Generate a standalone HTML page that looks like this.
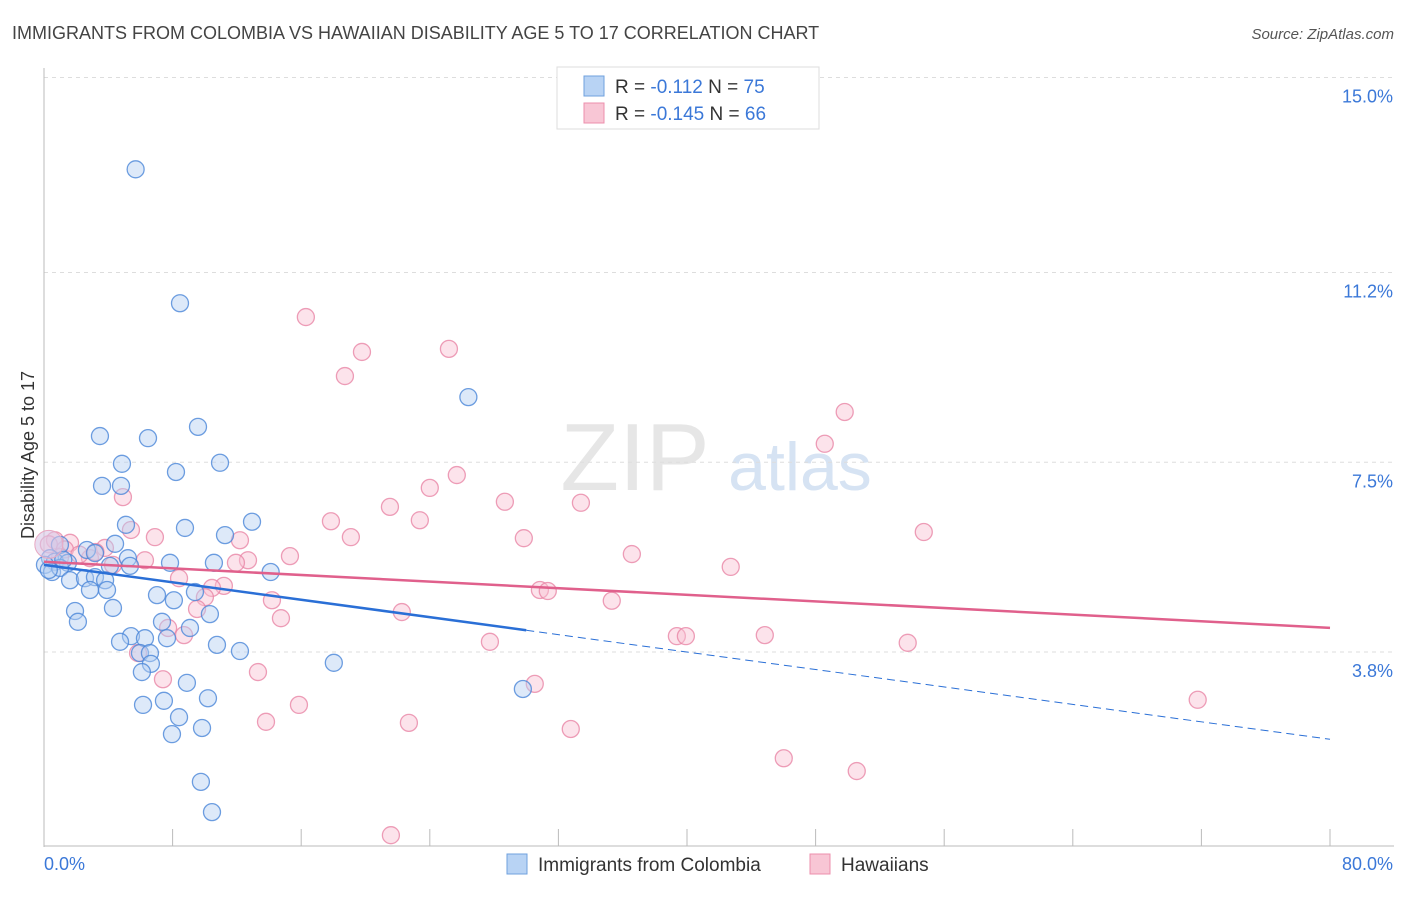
<!DOCTYPE html>
<html><head><meta charset="utf-8">
<style>
body{margin:0;background:#fff;font-family:"Liberation Sans",sans-serif;}
svg text{font-family:"Liberation Sans",sans-serif;}
</style></head>
<body>
<svg width="1406" height="892" xmlns="http://www.w3.org/2000/svg">
<text x="12" y="39" font-size="18" fill="#444">IMMIGRANTS FROM COLOMBIA VS HAWAIIAN DISABILITY AGE 5 TO 17 CORRELATION CHART</text>
<text x="1394" y="39" font-size="15" fill="#555" font-style="italic" text-anchor="end">Source: ZipAtlas.com</text>
<g>
<text x="635" y="490" font-size="96" fill="#e6e6e6" font-family="Liberation Serif" text-anchor="middle">ZIP</text>
<text x="800" y="490" font-size="68" fill="#d6e3f3" text-anchor="middle">atlas</text>
</g>
<g id="grid"></g>
<g id="axes"></g>
<g id="marks"></g>
<g>
<rect x="557" y="67" width="262" height="62" fill="#fff" stroke="#ddd"/>
<rect x="584" y="76" width="20" height="20" fill="#b8d3f4" stroke="#6fa0de"/>
<rect x="584" y="103" width="20" height="20" fill="#f8c6d5" stroke="#ec8fac"/>
<text x="615" y="93" font-size="19" fill="#333">R = <tspan fill="#3b78d8">-0.112</tspan>   N = <tspan fill="#3b78d8">75</tspan></text>
<text x="615" y="120" font-size="19" fill="#333">R = <tspan fill="#3b78d8">-0.145</tspan>   N = <tspan fill="#3b78d8">66</tspan></text>
</g>
<g>
<rect x="507" y="854" width="20" height="20" fill="#b8d3f4" stroke="#6fa0de"/>
<text x="538" y="871" font-size="19" fill="#333">Immigrants from Colombia</text>
<rect x="810" y="854" width="20" height="20" fill="#f8c6d5" stroke="#ec8fac"/>
<text x="841" y="871" font-size="19" fill="#333">Hawaiians</text>
</g>
<text x="34" y="455" font-size="18" fill="#333" transform="rotate(-90 34 455)" text-anchor="middle">Disability Age 5 to 17</text>
</svg>
<script>
const yTicks=[15.0,11.2,7.5,3.8];
const yTickLabels=["15.0%","11.2%","7.5%","3.8%"];
const xTicks=[0,8,16,24,32,40,48,56,64,72,80];
const blueX=[5.7,8.46,26.4,3.48,6.47,9.58,4.85,10.95,8.21,3.61,4.79,12.94,5.1,8.77,11.26,4.42,0.99,2.67,3.17,5.22,7.84,10.57,0.37,0.68,1.49,0.06,4.1,5.35,0.5,1,14.1,1.62,2.55,3.17,3.8,2.86,3.92,7.03,9.39,8.08,4.29,10.32,1.93,2.11,7.34,9.08,5.41,6.28,7.65,4.73,10.76,12.19,5.97,6.59,6.65,18.03,6.09,8.89,10.2,7.46,29.79,6.16,8.4,9.83,7.96,9.76,10.45,0.3,1.2];
const blueY=[13.21,10.6,8.77,8.01,7.97,8.19,7.47,7.49,7.31,7.04,7.04,6.34,6.28,6.22,6.08,5.91,5.89,5.79,5.73,5.63,5.54,5.54,5.63,5.56,5.54,5.5,5.48,5.48,5.36,5.44,5.36,5.2,5.24,5.26,5.2,5.01,5.01,4.91,4.97,4.81,4.66,4.54,4.6,4.39,4.39,4.27,4.11,4.07,4.07,4.0,3.94,3.82,3.78,3.78,3.57,3.59,3.41,3.2,2.9,2.85,3.08,2.77,2.53,2.32,2.2,1.27,0.68,5.4,5.6];
const pinkX=[16.29,19.78,25.19,18.72,49.81,48.57,25.68,24.0,4.91,28.67,33.4,21.52,23.38,17.85,5.41,54.73,6.9,19.09,29.85,12.19,0.68,1.62,3.79,36.57,15.3,6.28,12.69,11.94,2.86,42.72,4.29,8.4,11.19,10.45,30.85,31.34,10.01,14.18,35.32,9.52,22.26,14.74,7.72,8.71,39.37,39.93,44.84,27.74,53.73,5.85,13.31,7.4,30.53,15.86,13.81,22.7,32.77,71.77,46.02,50.56,21.58,0.3,1.3,2.2,3.2,1.0];
const pinkY=[10.33,9.65,9.71,9.18,8.48,7.86,7.25,7.0,6.82,6.73,6.71,6.63,6.37,6.35,6.18,6.14,6.04,6.04,6.02,5.98,5.98,5.93,5.83,5.71,5.67,5.59,5.59,5.54,5.63,5.46,5.5,5.24,5.09,5.05,5.01,4.99,4.87,4.81,4.8,4.64,4.58,4.46,4.27,4.13,4.11,4.11,4.13,4.0,3.98,3.78,3.41,3.27,3.18,2.77,2.44,2.42,2.3,2.87,1.73,1.48,0.23,5.9,5.8,5.7,5.75,5.65];
const blueTrend=[5.5,-0.0425];
const pinkTrend=[5.56,-0.0161];
const NS="http://www.w3.org/2000/svg";
const X=v=>44+v*(1330-44)/80;
const Y=v=>847-v*51.3;
function mk(tag,attrs,parent){const e=document.createElementNS(NS,tag);for(const k in attrs)e.setAttribute(k,attrs[k]);parent.appendChild(e);return e;}
const grid=document.getElementById('grid'),axes=document.getElementById('axes'),marks=document.getElementById('marks');
yTicks.forEach((t,i)=>{
 const l=mk('line',{x1:44,x2:1394,y1:Y(t),y2:Y(t),stroke:'#ddd','stroke-dasharray':'4,4'},grid);
 
 
 const tx=mk('text',{x:1393,y:Y(t)+25,'font-size':18,fill:'#3b78d8','text-anchor':'end'},axes);
 tx.textContent=yTickLabels[i];
 
 
});
const ax=mk('line',{x1:44,x2:44,y1:68,y2:847,stroke:'#bbb'},axes);


const bx=mk('line',{x1:44,x2:1394,y1:846,y2:846,stroke:'#bbb'},axes);


xTicks.forEach(t=>{
 const l=mk('line',{x1:X(t),x2:X(t),y1:829,y2:846,stroke:'#bbb'},axes);
 
 
});
const x0=mk('text',{x:44,y:870,'font-size':18,fill:'#3b78d8'},axes);x0.textContent='0.0%';


const x1=mk('text',{x:1393,y:870,'font-size':18,fill:'#3b78d8','text-anchor':'end'},axes);x1.textContent='80.0%';


function pts(xs,ys,fill,stroke,name){xs.forEach((v,i)=>{
 const c=mk('circle',{cx:X(v),cy:Y(ys[i]),r:8.5,fill:fill,'fill-opacity':0.45,stroke:stroke,'stroke-width':1.3,'stroke-opacity':0.8},marks);
 
 
});}
pts(pinkX,pinkY,'#f8c2d3','#e886a6','hawaiians-point');
pts(blueX,blueY,'#b3cff2','#4a86d8','colombia-point');
const big=mk('circle',{cx:X(0.3),cy:Y(5.9),r:14,fill:'#d8c6e6','fill-opacity':0.6,stroke:'#e8a8c2'},marks);


const pt=mk('line',{x1:X(0),y1:Y(pinkTrend[0]),x2:X(80),y2:Y(pinkTrend[0]+pinkTrend[1]*80),stroke:'#e0608c','stroke-width':2.5},marks);


const bt=mk('line',{x1:X(0),y1:Y(blueTrend[0]),x2:X(30),y2:Y(blueTrend[0]+blueTrend[1]*30),stroke:'#2a6fd6','stroke-width':2.5},marks);


const bd=mk('line',{x1:X(30),y1:Y(blueTrend[0]+blueTrend[1]*30),x2:X(80),y2:Y(blueTrend[0]+blueTrend[1]*80),stroke:'#2a6fd6','stroke-width':1,'stroke-dasharray':'8,5'},marks);


</script>
</body></html>
